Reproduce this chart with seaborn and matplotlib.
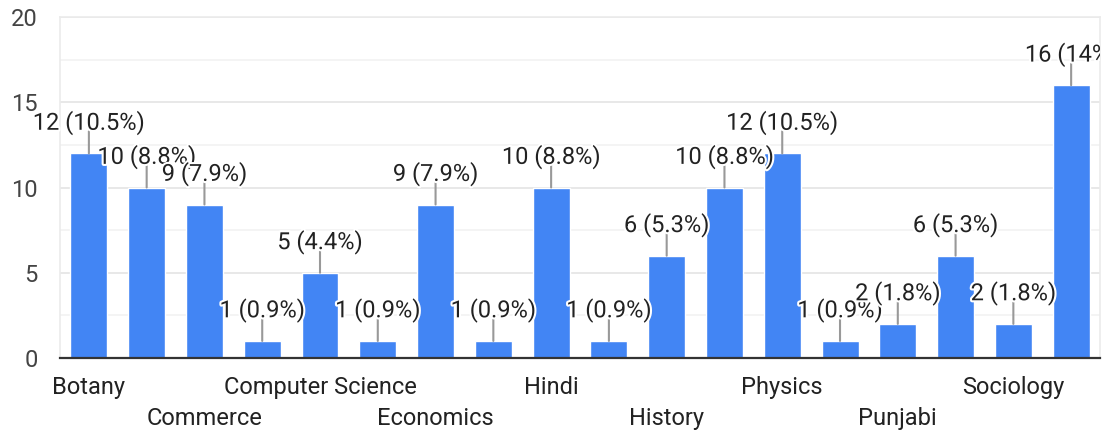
import matplotlib
matplotlib.use("Agg")
import matplotlib.pyplot as plt
import matplotlib.patheffects as pe
from matplotlib.ticker import MultipleLocator
from matplotlib.transforms import Bbox
import pandas as pd
import seaborn as sns

# subjects (only every other one is labelled on the axis, like the original)
subjects = [
    "Botany", "Chemistry", "Commerce", "Computer Applications",
    "Computer Science", "Dance", "Economics", "English", "Hindi",
    "Hindustani Music", "History", "Mathematics", "Physics",
    "Political Science", "Punjabi", "Sanskrit", "Sociology", "Zoology",
]
counts = [12, 10, 9, 1, 5, 1, 9, 1, 10, 1, 6, 10, 12, 1, 2, 6, 2, 16]
pct_labels = ["10.5%", "8.8%", "7.9%", "0.9%", "4.4%", "0.9%", "7.9%", "0.9%",
              "8.8%", "0.9%", "5.3%", "8.8%", "10.5%", "0.9%", "1.8%", "5.3%",
              "1.8%", "14%"]
y_ticks = [0, 5, 10, 15, 20]

df = pd.DataFrame({"subject": subjects, "count": counts})

sns.set_theme(style="white")
plt.rcParams["font.family"] = ["Roboto", "DejaVu Sans"]
FS = 17

fig = plt.figure(figsize=(11.07, 4.32), dpi=100)
ax = fig.add_axes([0.0542, 0.1713, 0.9395, 0.7893])

sns.barplot(data=df, x="subject", y="count", color="#4285F4", saturation=1,
            width=0.64, ax=ax, zorder=2)

ax.set_xlim(-0.5, len(subjects) - 0.5)
ax.set_ylim(0, 20)
ax.set_yticks(y_ticks)
ax.yaxis.set_minor_locator(MultipleLocator(2.5))
ax.grid(axis="y", which="major", color="#e6e6e6", linewidth=1.3, zorder=0)
ax.grid(axis="y", which="minor", color="#f3f3f3", linewidth=1.3, zorder=0)
ax.set_axisbelow(True)

for side in ["left", "right", "top"]:
    ax.spines[side].set_color("#ebebeb")
    ax.spines[side].set_linewidth(1.2)
ax.spines["bottom"].set_color("#333333")
ax.spines["bottom"].set_linewidth(1.6)
ax.spines["bottom"].set_zorder(5)

# staggered category labels: first row on major ticks, second row on minor
row1 = list(range(0, len(subjects), 4))
row2 = list(range(2, len(subjects), 4))
ax.set_xticks(row1, [subjects[i] for i in row1])
ax.set_xticks(row2, [subjects[i] for i in row2], minor=True)
ax.tick_params(axis="x", which="major", length=0, pad=13, labelsize=FS,
               labelcolor="#222222")
ax.tick_params(axis="x", which="minor", length=0, pad=35, labelsize=FS,
               labelcolor="#222222")
ax.tick_params(axis="y", which="both", length=0, pad=16, labelsize=FS,
               labelcolor="#444444")
ax.set_xlabel("")
ax.set_ylabel("")

clip = Bbox.from_extents(0, 0, 1100, 432)
halo = [pe.withStroke(linewidth=3, foreground="white")]
for i, (c, p) in enumerate(zip(counts, pct_labels)):
    ax.annotate("", xy=(i, c), xytext=(0, 16), textcoords="offset points",
                arrowprops=dict(arrowstyle="-", color="#999999", lw=1.5,
                                shrinkA=0, shrinkB=0), zorder=3)
    t = ax.annotate(f"{c} ({p})", xy=(i, c), xytext=(0, 22),
                    textcoords="offset points", ha="center", va="center",
                    fontsize=FS, color="#222222", path_effects=halo,
                    annotation_clip=False, zorder=4)
    t.set_clip_box(clip)
    t.set_clip_on(True)

fig.savefig("out.png", dpi=100)
